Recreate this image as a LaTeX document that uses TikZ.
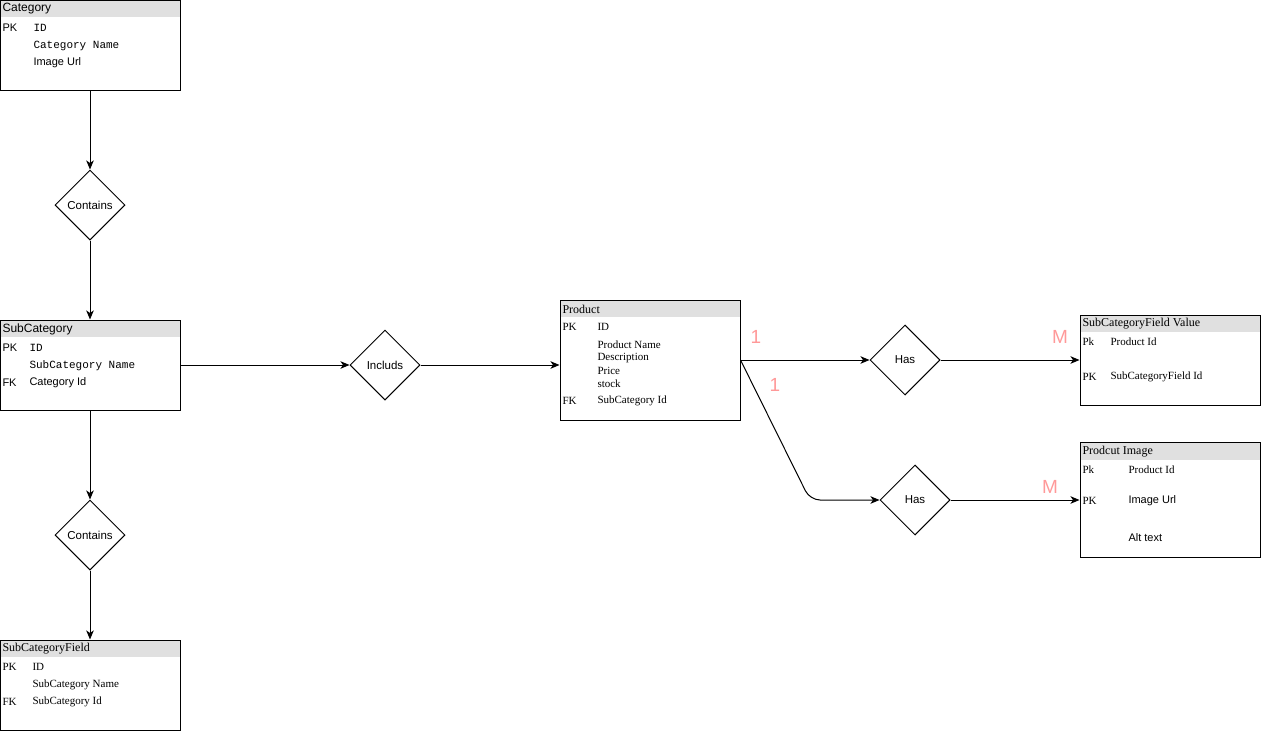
\documentclass[tikz,border=0pt]{standalone}
\usepackage{fontspec}
\setmainfont{Liberation Serif}
\setsansfont{Liberation Sans}
\setmonofont{Liberation Mono}
\usetikzlibrary{arrows.meta,shapes.geometric}
\definecolor{headgray}{HTML}{E0E0E0}
\definecolor{cardpink}{HTML}{FF9999}
\tikzset{>/.tip={Stealth[length=9pt,width=7.5pt,inset=2.5pt]},
  table/.style={draw,line width=1pt,minimum width=180pt,inner sep=0pt},
  head/.style={fill=headgray,minimum width=179pt,minimum height=17pt,inner sep=0pt},
  field/.style={anchor=west,inner sep=0pt,font=\fontsize{11}{13}\selectfont},
  relation/.style={draw,diamond,line width=1pt,minimum width=70pt,minimum height=70pt,inner sep=0pt,font=\sffamily\fontsize{11.5}{13}\selectfont},
  card/.style={text=cardpink,inner sep=0pt,font=\sffamily\fontsize{19}{21}\selectfont}}

\begin{document}
\begin{tikzpicture}[x=1pt,y=-1pt,line width=1pt]
\useasboundingbox (0,0) rectangle (1261,731);

% Category
\node[head] (cat-head) at (90,8.5) {};
\node[table,minimum height=90pt] (Category) at (90,45) {};
\node[field,font=\sffamily\fontsize{12}{14}\selectfont] (cat-title) at (2,9) {Category};
\node[field,font=\sffamily\fontsize{11}{13}\selectfont] (cat-pk) at (2,28) {PK};
\node[field,font=\ttfamily\fontsize{11}{13}\selectfont] (cat-id) at (33,28) {ID};
\node[field,font=\ttfamily\fontsize{11}{13}\selectfont] (cat-name) at (33,45.5) {Category Name};
\node[field,font=\sffamily\fontsize{11}{13}\selectfont] (cat-img) at (33,63) {Image Url};

% SubCategory
\node[head] (sub-head) at (90,328.5) {};
\node[table,minimum height=90pt] (SubCategory) at (90,365) {};
\node[field,font=\sffamily\fontsize{12}{14}\selectfont] (sub-title) at (2,329) {SubCategory};
\node[field,font=\sffamily\fontsize{11}{13}\selectfont] (sub-pk) at (2,348) {PK};
\node[field,font=\ttfamily\fontsize{11}{13}\selectfont] (sub-id) at (29,348) {ID};
\node[field,font=\ttfamily\fontsize{11}{13}\selectfont] (sub-name) at (29,366) {SubCategory Name};
\node[field,font=\sffamily\fontsize{11}{13}\selectfont] (sub-fk) at (2,383) {FK};
\node[field,font=\sffamily\fontsize{11}{13}\selectfont] (sub-cat) at (29,383) {Category Id};

% SubCategoryField
\node[head] (scf-head) at (90,648.5) {};
\node[table,minimum height=90pt] (SubCategoryField) at (90,685) {};
\node[field,font=\fontsize{12}{14}\selectfont] (scf-title) at (2,649) {SubCategoryField};
\node[field] (scf-pk) at (2,667) {PK};
\node[field] (scf-id) at (32,667) {ID};
\node[field] (scf-name) at (32,685) {SubCategory Name};
\node[field] (scf-fk) at (2,702) {FK};
\node[field] (scf-sub) at (32,702) {SubCategory Id};

% Product
\node[head] (prod-head) at (650,308.5) {};
\node[table,minimum height=120pt] (Product) at (650,360) {};
\node[field,font=\fontsize{12}{14}\selectfont] (prod-title) at (562,309) {Product};
\node[field] (prod-pk) at (562,327) {PK};
\node[field] (prod-id) at (597,327) {ID};
\node[field] (prod-name) at (597,345) {Product Name};
\node[field] (prod-desc) at (597,358) {Description};
\node[field] (prod-price) at (597,371) {Price};
\node[field] (prod-stock) at (597,384) {stock};
\node[field] (prod-fk) at (562,401) {FK};
\node[field] (prod-sub) at (597,401) {SubCategory Id};

% SubCategoryField Value
\node[head] (val-head) at (1170,323.5) {};
\node[table,minimum height=90pt] (FieldValue) at (1170,360) {};
\node[field,font=\fontsize{12}{14}\selectfont] (val-title) at (1082,324) {SubCategoryField Value};
\node[field] (val-pk1) at (1082,342) {Pk};
\node[field] (val-prod) at (1110,342) {Product Id};
\node[field] (val-pk2) at (1082,377) {PK};
\node[field] (val-field) at (1110,377) {SubCategoryField Id};

% Prodcut Image
\node[head] (img-head) at (1170,451) {};
\node[table,minimum height=115pt] (ProductImage) at (1170,499.5) {};
\node[field,font=\fontsize{12}{14}\selectfont] (img-title) at (1082,452) {Prodcut Image};
\node[field] (img-pk1) at (1082,470) {Pk};
\node[field] (img-prod) at (1128,470) {Product Id};
\node[field] (img-pk2) at (1082,501) {PK};
\node[field,font=\sffamily\fontsize{11}{13}\selectfont] (img-url) at (1128,501) {Image Url};
\node[field,font=\sffamily\fontsize{11}{13}\selectfont] (img-alt) at (1128,538) {Alt text};

% relations
\node[relation] (Contains-1) at (90,205) {Contains};
\node[relation] (Contains-2) at (90,535) {Contains};
\node[relation] (Includs) at (385,365) {Includs};
\node[relation] (Has-1) at (905,360) {Has};
\node[relation] (Has-2) at (915,500) {Has};
\coordinate (bend) at (810,500);

% cardinalities
\node[card] (one-1) at (756,337) {1};
\node[card] (one-2) at (775,385) {1};
\node[card] (many-1) at (1060,337) {M};
\node[card] (many-2) at (1050,487) {M};

\draw[->] (Category) -- (Contains-1);
\draw[->] (Contains-1) -- (SubCategory);
\draw[->] (SubCategory) -- (Contains-2);
\draw[->] (Contains-2) -- (SubCategoryField);
\draw[->] (SubCategory.east) -- (Includs.west);
\draw[->] (Includs.east) -- (Includs.east -| Product.west);
\draw[->] (Product.east) -- (Has-1.west);
\draw[->] (Has-1.east) -- (FieldValue.west);
\draw[->,rounded corners=10pt] (Product.east) -- (bend) -- (Has-2.west);
\draw[->] (Has-2.east) -- (Has-2.east -| ProductImage.west);
\end{tikzpicture}
\end{document}
